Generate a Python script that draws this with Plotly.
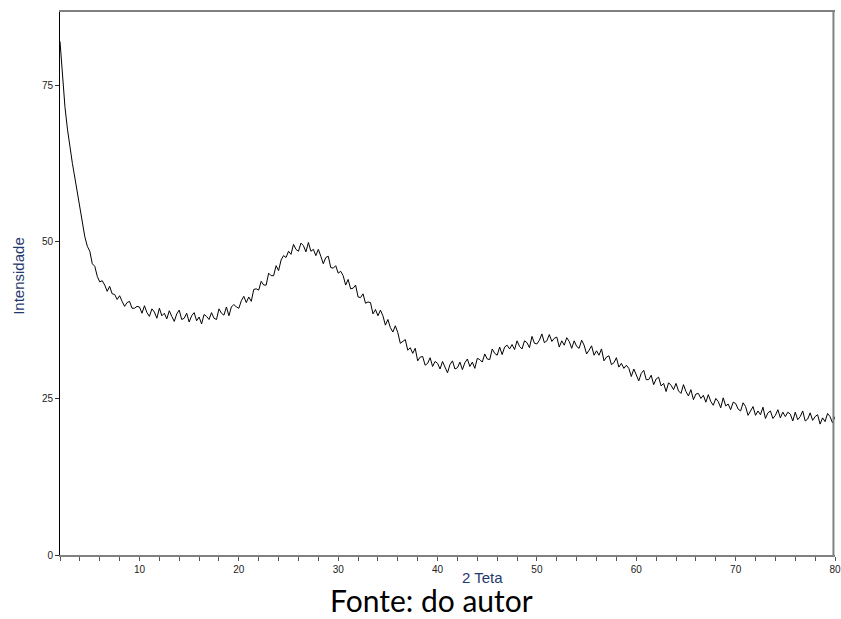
import plotly.graph_objects as go

# 2-theta grid: 2.00 to 80.00 in 0.25 steps (313 points)
theta_start = 2.0
theta_step = 0.25

intensity = [
    # 2.00 - 4.75
    82.0, 76.0, 71.5, 68.0, 65.0, 62.5, 60.2, 57.8, 55.0, 52.8, 50.8, 49.3,
    # 5.00 - 9.75
    48.5, 46.5, 46.1, 44.5, 43.6, 43.8, 43.1, 42.1, 42.9, 41.7,
    41.6, 40.8, 41.4, 40.5, 39.7, 40.3, 40.5, 39.4, 39.4, 39.7,
    # 10.00 - 19.75
    39.6, 38.6, 39.8, 38.7, 38.1, 39.3, 38.8, 37.8, 39.4, 38.2,
    38.6, 37.7, 39.0, 38.1, 37.3, 38.5, 39.1, 37.6, 37.8, 38.6,
    37.2, 38.2, 38.7, 37.4, 38.0, 36.9, 38.4, 38.1, 37.6, 38.7,
    37.8, 37.6, 39.3, 38.6, 38.3, 39.6, 38.2, 39.6, 40.0, 39.6,
    # 20.00 - 29.75
    39.4, 40.6, 41.3, 40.3, 41.2, 40.5, 42.4, 42.5, 42.3, 43.7,
    43.1, 43.1, 45.0, 44.6, 44.6, 46.2, 45.4, 47.1, 47.8, 47.5,
    48.5, 48.0, 49.6, 48.8, 48.5, 49.8, 49.4, 48.4, 49.9, 48.5,
    48.8, 47.8, 48.8, 47.7, 46.5, 47.5, 47.7, 45.9, 45.8, 46.2,
    # 30.00 - 39.75
    45.0, 45.3, 44.6, 43.1, 44.0, 42.5, 42.6, 43.1, 41.2, 41.1,
    41.7, 40.2, 40.4, 40.3, 38.5, 39.2, 38.2, 39.1, 38.2, 36.7,
    37.6, 36.3, 35.6, 36.6, 35.5, 33.8, 34.1, 34.4, 32.7, 33.1,
    32.2, 33.0, 31.0, 31.6, 31.7, 30.3, 30.6, 31.5, 30.1, 30.9,
    # 40.00 - 49.75
    30.6, 29.7, 30.9, 30.0, 29.1, 30.4, 31.0, 29.7, 29.9, 30.8,
    29.6, 30.7, 31.3, 30.1, 30.8, 29.8, 31.4, 31.2, 30.8, 32.1,
    31.3, 31.2, 32.9, 32.2, 31.9, 33.2, 32.0, 33.2, 33.5, 32.9,
    33.6, 32.8, 34.2, 33.3, 32.9, 34.2, 33.9, 33.1, 34.9, 33.8,
    # 50.00 - 59.75
    33.7, 34.3, 35.3, 33.9, 34.2, 35.2, 34.1, 34.6, 34.8, 33.2,
    34.2, 33.5, 34.7, 34.1, 33.0, 34.2, 33.3, 33.0, 34.3, 33.5,
    32.1, 32.7, 33.4, 31.9, 32.6, 31.9, 32.9, 31.0, 31.6, 31.8,
    30.4, 30.7, 31.5, 30.0, 30.6, 29.8, 30.3, 29.8, 28.5, 29.7,
    # 60.00 - 69.75
    28.8, 27.8, 29.0, 29.5, 28.0, 28.0, 28.7, 27.2, 28.1, 28.4,
    27.0, 27.4, 26.1, 27.5, 27.1, 26.4, 27.4, 26.2, 25.8, 27.2,
    26.1, 25.4, 26.4, 24.8, 25.7, 25.8, 25.0, 25.5, 24.4, 25.6,
    24.5, 23.9, 25.0, 24.5, 23.5, 25.1, 23.8, 24.1, 23.2, 24.4,
    # 70.00 - 80.00
    24.2, 23.3, 23.0, 24.3, 23.7, 22.3, 23.0, 23.7, 22.3, 23.0,
    22.4, 23.6, 21.8, 22.7, 23.0, 21.8, 22.3, 23.2, 21.9, 22.8,
    22.1, 22.8, 22.5, 21.4, 22.8, 21.6, 22.1, 23.0, 21.4, 21.7,
    22.7, 21.5, 22.1, 22.4, 20.9, 21.9, 21.3, 22.6, 22.1, 21.1,
    22.1,
]

two_theta = [theta_start + theta_step * i for i in range(len(intensity))]

x_ticks = [10, 20, 30, 40, 50, 60, 70, 80]
y_ticks = [0, 25, 50, 75]

fig = go.Figure()
fig.add_trace(go.Scatter(
    x=two_theta, y=intensity, mode="lines",
    line=dict(color="#000000", width=1),
    showlegend=False, hoverinfo="skip",
))

tick_font = dict(family="Liberation Sans, Arial, sans-serif", size=10, color="#222222")
label_font = dict(family="Liberation Sans, Arial, sans-serif", size=15, color="#1F3A6E")

fig.update_layout(
    width=841, height=619,
    margin=dict(l=60, r=0, t=12, b=64),
    paper_bgcolor="white", plot_bgcolor="white",
    xaxis=dict(
        range=[2, 80], tickvals=x_ticks, ticks="outside", ticklen=4,
        tickcolor="#555555", linecolor="#808080", linewidth=2, mirror=True,
        showgrid=False, zeroline=False, tickfont=tick_font,
        ticklabeloverflow="allow",
        minor=dict(dtick=2, tick0=0, ticks="outside", ticklen=4, tickcolor="#555555", showgrid=False),
    ),
    yaxis=dict(
        range=[0, 86.7], tickvals=y_ticks, ticks="outside", ticklen=4,
        tickcolor="#333333", linecolor="#000000", linewidth=1,
        showgrid=False, zeroline=False, tickfont=tick_font,
    ),
    shapes=[dict(type="line", xref="paper", yref="paper", x0=0.998, x1=0.998, y0=0, y1=1,
                 line=dict(color="#808080", width=2))],
    annotations=[
        dict(text="Intensidade", xref="paper", yref="paper", x=-0.053, y=0.514,
             xanchor="center", yanchor="middle", textangle=-90, showarrow=False,
             font=label_font),
        dict(text="2 Teta", x=44.5, xref="x", yref="paper", y=-0.042,
             xanchor="center", yanchor="middle", showarrow=False,
             font=label_font),
        dict(text="Fonte: do autor", x=0.479, xref="paper", yref="paper", y=-0.083,
             xanchor="center", yanchor="middle", showarrow=False,
             font=dict(family="Lato, Open Sans, sans-serif", size=30, color="#000000")),
    ],
)

fig.write_html(
    "out.html",
    config={"displayModeBar": False},
    post_script="document.body.style.margin='0';document.body.style.overflow='hidden';",
)
